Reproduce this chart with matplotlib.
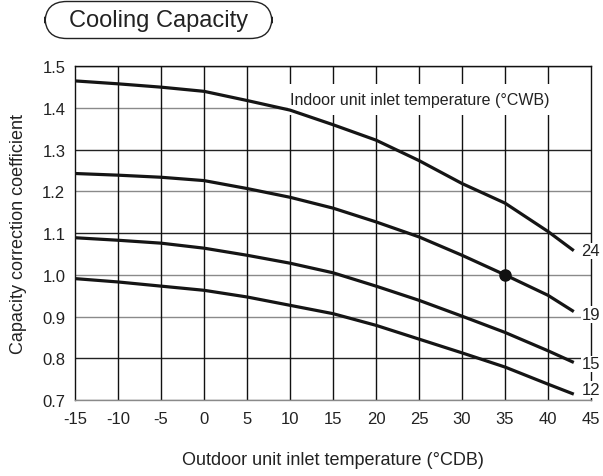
import matplotlib
matplotlib.use("Agg")
import matplotlib.pyplot as plt
from matplotlib.patches import Rectangle, FancyBboxPatch

plt.rcParams['font.family'] = ['Liberation Sans', 'DejaVu Sans']

x_temps = [-15, -10, -5, 0, 5, 10, 15, 20, 25, 30, 35, 40, 43]
cwb_24 = [1.465, 1.458, 1.450, 1.440, 1.418, 1.395, 1.360, 1.323, 1.274, 1.219, 1.172, 1.104, 1.058]
cwb_19 = [1.243, 1.239, 1.234, 1.226, 1.207, 1.186, 1.160, 1.127, 1.091, 1.047, 1.000, 0.951, 0.912]
cwb_15 = [1.089, 1.083, 1.076, 1.064, 1.047, 1.028, 1.005, 0.973, 0.939, 0.901, 0.862, 0.818, 0.790]
cwb_12 = [0.991, 0.983, 0.973, 0.963, 0.947, 0.927, 0.907, 0.879, 0.846, 0.813, 0.779, 0.738, 0.714]
series = [("24", cwb_24), ("19", cwb_19), ("15", cwb_15), ("12", cwb_12)]
label_y = {"24": 1.058, "19": 0.905, "15": 0.787, "12": 0.725}
x_ticks = [-15, -10, -5, 0, 5, 10, 15, 20, 25, 30, 35, 40, 45]
y_ticks = [0.7, 0.8, 0.9, 1.0, 1.1, 1.2, 1.3, 1.4, 1.5]
rated_point = (35, 1.0)

W, H = 603, 477
fig = plt.figure(figsize=(W / 100, H / 100), dpi=100)
ax = fig.add_axes([75 / W, 1 - 401 / H, (591 - 75) / W, (401 - 67.3) / H])
ax.set_xlim(-15, 45)
ax.set_ylim(0.7, 1.5)

gray_rows = {0.7, 0.9, 1.0, 1.2, 1.4}
for yv in y_ticks:
    col = '#8a8a8a' if round(yv, 1) in gray_rows else '#222222'
    ax.axhline(yv, color=col, lw=1.0, zorder=1)
for xv in x_ticks[1:-1]:
    ax.axvline(xv, color='#111111', lw=1.0, zorder=1)
for s in ax.spines.values():
    s.set_color('#111111')
    s.set_linewidth(1.0)
ax.spines['bottom'].set_color('#8a8a8a')

ax.set_xticks(x_ticks)
ax.set_xticklabels([str(v) for v in x_ticks])
ax.set_yticks(y_ticks)
ax.set_yticklabels([f"{v:.1f}" for v in y_ticks])
ax.tick_params(length=0, labelsize=12, colors='#222222')
ax.tick_params(axis='x', pad=8)
ax.tick_params(axis='y', pad=7)

# header box
ax.add_patch(Rectangle((9.8, 1.384), 35.2, 0.073, facecolor='white', edgecolor='none', zorder=2))
ax.text(10.0, 1.421, "Indoor unit inlet temperature (°CWB)", fontsize=11.5, va='center', ha='left',
        color='#222222', zorder=3)

for name, vals in series:
    ax.plot(x_temps, vals, color='#151515', lw=2.3, zorder=4, solid_capstyle='butt')
    ax.text(43.9, label_y[name], name, fontsize=12, va='center', ha='left', color='#222222',
            zorder=6, clip_on=False,
            bbox=dict(facecolor='white', edgecolor='none', pad=0.5))

ax.plot([rated_point[0]], [rated_point[1]], 'o', color='#111111', ms=8, zorder=5)

ax.set_xlabel("Outdoor unit inlet temperature (°CDB)", fontsize=13, color='#222222', labelpad=18)
ax.set_ylabel("Capacity correction coefficient", fontsize=13, color='#222222', labelpad=11)

# title in rounded box
bx0, bx1, by0, by1 = 45, 272, 2.5, 39.5
fig.patches.append(FancyBboxPatch((bx0 / W, 1 - by1 / H), (bx1 - bx0) / W, (by1 - by0) / H,
                                  boxstyle='round,pad=0,rounding_size=0.036',
                                  transform=fig.transFigure, facecolor='white',
                                  edgecolor='#222222', lw=1.0, mutation_aspect=W / H))
fig.text((bx0 + bx1) / 2 / W, 1 - 21.5 / H, "Cooling Capacity", fontsize=17, ha='center', va='center',
         color='#222222')

fig.savefig("out.png", dpi=100)
